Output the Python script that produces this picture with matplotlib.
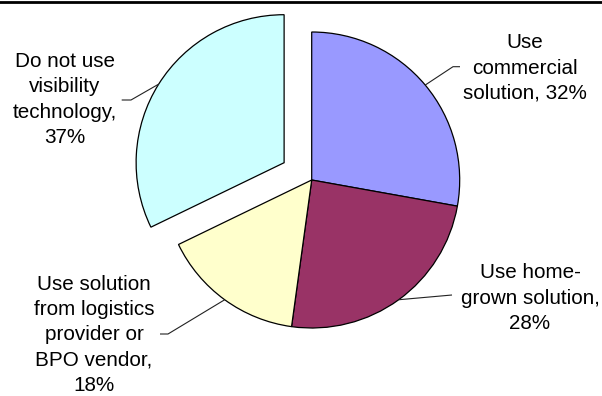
import matplotlib
matplotlib.use('Agg')
import matplotlib.pyplot as plt
import numpy as np
from matplotlib.lines import Line2D

labels = ["Use\ncommercial\nsolution, 32%",
          "Use home-\ngrown solution,\n28%",
          "Use solution\nfrom logistics\nprovider or\nBPO vendor,\n18%",
          "Do not use\nvisibility\ntechnology,\n37%"]
values = [32, 28, 18, 37]
colors = ["#9999FF", "#993366", "#FFFFCC", "#CCFFFF"]
explode_frac = [0, 0, 0, 0.22]

W, H = 602, 396
fig = plt.figure(figsize=(W / 100, H / 100), dpi=100)
ax = fig.add_axes([0, 0, 1, 1])

cx, cy, R = 311.7, H - 180, 148
wedges, _ = ax.pie(values, colors=colors, explode=[e * R for e in explode_frac],
                   startangle=90, counterclock=False, center=(cx, cy), radius=R,
                   wedgeprops=dict(edgecolor='black', linewidth=0.9))
ax.set_xlim(0, W)
ax.set_ylim(0, H)
ax.set_aspect('equal')
ax.axis('off')

# label block centers (pixel coords from top) and leader elbows/ends
text_pos = [(525, 68), (530, 298), (94, 335), (65, 99.5)]
leader_pts = [[(453, 66.7), (460, 66.7)],
              [(452, 295)],
              [(168, 334), (160, 334)],
              [(131, 100), (121.7, 100)]]

for w, lab, tp, pts in zip(wedges, labels, text_pos, leader_pts):
    th = np.deg2rad((w.theta1 + w.theta2) / 2)
    ax0 = w.center[0] + w.r * np.cos(th)
    ay0 = w.center[1] + w.r * np.sin(th)
    xs = [ax0] + [p[0] for p in pts]
    ys = [ay0] + [H - p[1] for p in pts]
    ax.plot(xs, ys, color='#222222', linewidth=0.8, solid_capstyle='butt')
    ax.text(tp[0], H - tp[1], lab, ha='center', va='center', fontsize=14.9,
            family=['Liberation Sans', 'DejaVu Sans'], linespacing=1.42,
            multialignment='center', color='black')

fig.add_artist(Line2D([0, 1], [1 - 1.6 / H, 1 - 1.6 / H], transform=fig.transFigure,
                      color='black', linewidth=2.0))

fig.savefig('out.png', dpi=100)
